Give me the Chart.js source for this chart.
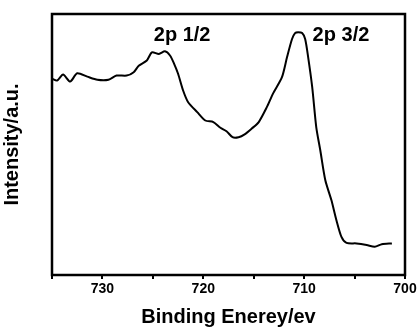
<!DOCTYPE html>
<html>
<head>
<meta charset="utf-8">
<script src="https://cdn.jsdelivr.net/npm/chart.js@4"></script>
<style>
    html, body { margin: 0; padding: 0; background: #fff; }
    #wrap { width: 419px; height: 329px; }
</style>
</head>
<body>
<div id="wrap"><canvas id="xpsChart" width="419" height="329"></canvas></div>
<script>
// Binding energy (eV) and intensity (a.u., 0-100 of plot height)
const energies = [
    735.0, 734.5, 733.9, 733.2, 732.5, 731.5, 730.5, 729.4, 728.6, 727.6,
    726.9, 726.4, 725.6, 725.1, 724.4, 723.8, 723.3, 722.9, 722.5, 722.0,
    721.5, 720.6, 719.8, 719.0, 718.3, 717.7, 717.1, 716.5, 715.9, 715.2,
    714.5, 713.7, 713.1, 712.2, 711.7, 711.2, 710.9, 710.6, 710.2, 709.9,
    709.6, 709.2, 708.8, 708.4, 707.9, 707.3, 706.8, 706.3, 705.8, 704.8,
    703.8, 703.0, 702.3, 701.3
];
const intensities = [
    75.2, 74.5, 76.8, 74.1, 77.3, 76.0, 74.8, 74.8, 76.4, 76.4,
    77.7, 80.2, 82.2, 85.3, 84.7, 85.7, 84.1, 81.0, 77.1, 70.7,
    66.2, 62.4, 59.2, 58.6, 56.4, 55.1, 52.8, 52.8, 53.9, 56.1,
    58.6, 64.3, 69.4, 75.8, 83.4, 90.4, 92.7, 93.0, 92.7, 90.4,
    83.4, 72.0, 56.7, 47.8, 36.3, 28.7, 21.0, 14.6, 12.3, 12.1,
    11.5, 10.8, 11.8, 12.1
];
const peakLabels = ["2p 1/2", "2p 3/2"];
const peakEnergies = [722.1, 706.35];
const peakHeights = [91.7, 91.7];

const points = energies.map((e, i) => ({ x: e, y: intensities[i] }));
const font = "'Liberation Sans', Arial, sans-serif";

// full box round the plot area, then the peak names
const extras = {
    id: "extras",
    afterDraw(chart) {
        const ctx = chart.ctx;
        const a = chart.chartArea;
        ctx.save();
        ctx.setLineDash([]);
        ctx.globalAlpha = 1;
        ctx.strokeStyle = "rgb(0,0,0)";
        ctx.lineWidth = 2.5;
        ctx.strokeRect(Math.round(a.left), Math.round(a.top), Math.round(a.right - a.left), Math.round(a.bottom - a.top));
        ctx.fillStyle = "rgb(0,0,0)";
        ctx.font = "bold 20px " + font;
        ctx.textAlign = "center";
        ctx.textBaseline = "middle";
        peakLabels.forEach((t, i) => {
            ctx.fillText(t, chart.scales.x.getPixelForValue(peakEnergies[i]), chart.scales.y.getPixelForValue(peakHeights[i]));
        });
        ctx.restore();
    }
};

const config = {
    type: "line",
    data: {
        datasets: [{
            data: points,
            borderColor: "#000",
            borderWidth: 2,
            pointRadius: 0,
            tension: 0.25,
            fill: false,
        }],
    },
    options: {
        responsive: false,
        animation: false,
        layout: { padding: { top: 14, right: 14, left: 0, bottom: 0 } },
        plugins: {
            legend: { display: false },
            tooltip: { enabled: false },
        },
        scales: {
            x: {
                type: "linear",
                reverse: true,
                min: 700,
                max: 735,
                afterFit(scale) { scale.height = 54; },
                grid: { display: true, drawOnChartArea: false, drawTicks: true, tickLength: 4, color: "#000", lineWidth: 2 },
                border: { display: true, color: "#000", width: 2 },
                ticks: {
                    stepSize: 5,
                    color: "#000",
                    padding: 2,
                    maxRotation: 0,
                    font: { family: font, size: 14, weight: "bold" },
                    callback: (v) => (v % 10 === 0 ? String(v) : ""),
                },
                title: {
                    display: true,
                    text: "Binding Enerey/ev",
                    color: "#000",
                    padding: { top: 9, bottom: 0 },
                    font: { family: font, size: 20, weight: "bold" },
                },
            },
            y: {
                min: 0,
                max: 100,
                afterFit(scale) { scale.width = 52; },
                grid: { display: false },
                border: { display: true, color: "#000", width: 2 },
                ticks: { display: false },
                title: {
                    display: true,
                    text: "Intensity/a.u.",
                    color: "#000",
                    padding: { top: 0, bottom: 10 },
                    font: { family: font, size: 20, weight: "bold" },
                },
            },
        },
    },
    plugins: [extras],
};

const ctx = document.getElementById("xpsChart").getContext("2d");
const xpsChart = new Chart(ctx, config);
</script>
</body>
</html>
